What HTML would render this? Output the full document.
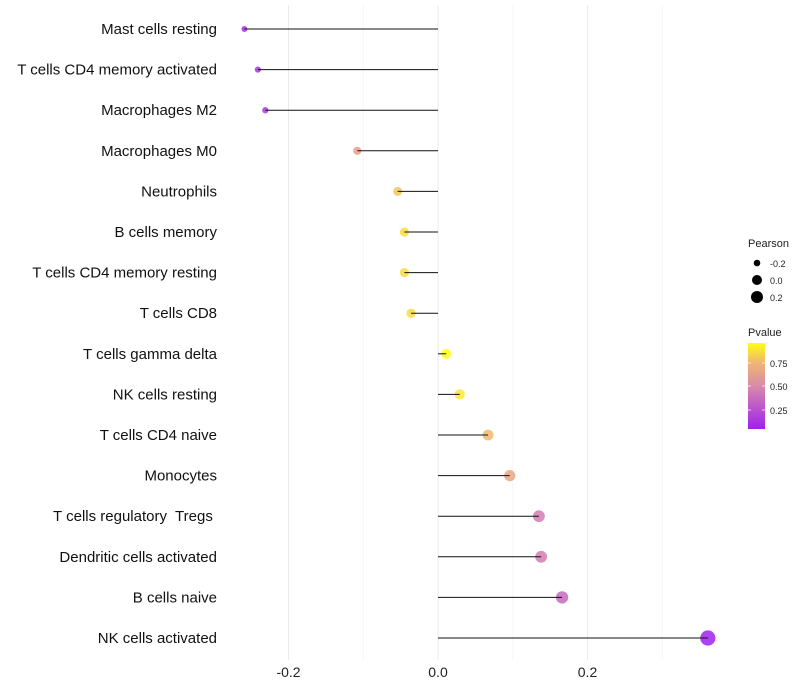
<!DOCTYPE html>
<html><head><meta charset="utf-8">
<style>
body{margin:0;background:#fff;}
svg{display:block;font-family:"Liberation Sans",sans-serif;}
#labels text{white-space:pre;}
</style></head><body>
<svg id="chart" width="800" height="700" xmlns="http://www.w3.org/2000/svg">
<defs>
<linearGradient id="pg" x1="0" y1="1" x2="0" y2="0">
<stop offset="0" stop-color="#a020f0"/>
<stop offset="0.5" stop-color="#d98aa8"/>
<stop offset="0.78" stop-color="#f0b870"/>
<stop offset="1" stop-color="#ffff10"/>
</linearGradient>
</defs>
<g id="grid"></g>
<g id="marks"></g>
<g id="labels"></g>
<g id="xticks"></g>
<g>
<text x="748" y="247" font-size="11" fill="#222">Pearson</text>
<circle cx="757" cy="263" r="3.3" fill="#000"/>
<text x="770" y="267" font-size="9" fill="#222">-0.2</text>
<circle cx="757" cy="280" r="5" fill="#000"/>
<text x="770" y="284" font-size="9" fill="#222">0.0</text>
<circle cx="757" cy="297" r="6" fill="#000"/>
<text x="770" y="301" font-size="9" fill="#222">0.2</text>
</g>
<g>
<text x="748" y="336" font-size="11" fill="#222">Pvalue</text>
<rect x="748" y="343" width="17" height="86" fill="url(#pg)"/>
<g stroke="#fff" stroke-width="1" opacity="0.7"><line x1="748" x2="751" y1="363" y2="363"/><line x1="762" x2="765" y1="363" y2="363"/><line x1="748" x2="751" y1="386" y2="386"/><line x1="762" x2="765" y1="386" y2="386"/><line x1="748" x2="751" y1="410" y2="410"/><line x1="762" x2="765" y1="410" y2="410"/></g>
<text x="770" y="367" font-size="9" fill="#222">0.75</text>
<text x="770" y="390" font-size="9" fill="#222">0.50</text>
<text x="770" y="414" font-size="9" fill="#222">0.25</text>
</g>
</svg>
<script>
const categories=["Mast cells resting","T cells CD4 memory activated","Macrophages M2","Macrophages M0","Neutrophils","B cells memory","T cells CD4 memory resting","T cells CD8","T cells gamma delta","NK cells resting","T cells CD4 naive","Monocytes","T cells regulatory  Tregs ","Dendritic cells activated","B cells naive","NK cells activated"];
const pearson=[-0.259,-0.241,-0.231,-0.108,-0.054,-0.045,-0.045,-0.036,0.011,0.029,0.067,0.096,0.135,0.138,0.166,0.361];
const pvalue=[0.12,0.13,0.16,0.62,0.8,0.86,0.86,0.86,0.96,0.9,0.76,0.66,0.45,0.45,0.36,0.04];
const xTicks=[-0.2,0,0.2];
const xTickLabels=["-0.2","0.0","0.2"];
const xMinor=[-0.1,0.1,0.3];
const NS="http://www.w3.org/2000/svg";
const xs=v=>438+v*747.5;
const ys=i=>29+i*40.6;
function mk(t,a,p){const e=document.createElementNS(NS,t);for(const k in a)e.setAttribute(k,a[k]);p.appendChild(e);return e;}
function hex(c){return [parseInt(c.slice(1,3),16),parseInt(c.slice(3,5),16),parseInt(c.slice(5,7),16)];}
const stops=[[0.05,"#a020f0"],[0.505,"#d98aa8"],[0.755,"#f0b870"],[0.96,"#ffff10"]];
function col(p){p=Math.max(0.05,Math.min(0.96,p));for(let i=0;i<stops.length-1;i++){const [a,ca]=stops[i],[b,cb]=stops[i+1];if(p<=b){const t=(p-a)/(b-a),A=hex(ca),B=hex(cb);return "rgb("+A.map((v,j)=>Math.round(v+(B[j]-v)*t)).join(",")+")";}}return "#ffff10";}
const grid=document.getElementById('grid'),marks=document.getElementById('marks'),labels=document.getElementById('labels'),xt=document.getElementById('xticks');
xTicks.forEach((v,i)=>{
 const l=mk('line',{x1:xs(v),x2:xs(v),y1:5,y2:660,stroke:'#ebebeb','stroke-width':1},grid);
 
 
 const t=mk('text',{x:xs(v),y:677,'text-anchor':'middle','font-size':14,fill:'#222'},xt);
 t.textContent=xTickLabels[i];
 
 
});
xMinor.forEach(v=>{
 const l=mk('line',{x1:xs(v),x2:xs(v),y1:5,y2:660,stroke:'#f6f6f6','stroke-width':1},grid);
 
 
});
categories.forEach((c,i)=>{
 const y=ys(i);
 const t=mk('text',{x:217,y:y+5,'text-anchor':'end','font-size':15,fill:'#111'},labels);
 t.textContent=c;
 
 
 const r=Math.max(1.5,4.9+7.5*pearson[i]);
 const d=mk('circle',{cx:xs(pearson[i]),cy:y,r:r,fill:col(pvalue[i]),'fill-opacity':0.85},marks);
 
 
 const l=mk('line',{x1:xs(0),x2:xs(pearson[i]),y1:y,y2:y,stroke:'#111','stroke-width':1},marks);
 
 
});
</script>
</body></html>
